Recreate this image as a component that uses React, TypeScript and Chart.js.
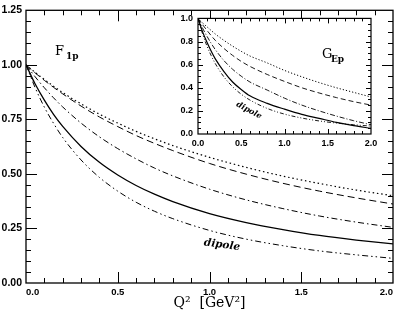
import React, { useEffect, useRef } from "react";
import { Chart, registerables } from "chart.js";
Chart.register(...registerables);

// ---------- data ----------
const q2Main = [0, 0.05, 0.1, 0.15, 0.2, 0.3, 0.4, 0.5, 0.6, 0.7, 0.8, 1.0, 1.2, 1.4, 1.6, 1.8, 2.0];
const f1Dotted = [1, 0.965, 0.933, 0.902, 0.873, 0.821, 0.774, 0.733, 0.695, 0.661, 0.630, 0.576, 0.530, 0.490, 0.456, 0.426, 0.400];
const f1Dashed = [1, 0.963, 0.929, 0.897, 0.867, 0.811, 0.761, 0.717, 0.676, 0.640, 0.607, 0.548, 0.499, 0.457, 0.421, 0.390, 0.362];
const f1DashDot = [1, 0.945, 0.895, 0.849, 0.807, 0.733, 0.670, 0.616, 0.569, 0.527, 0.491, 0.430, 0.381, 0.341, 0.307, 0.279, 0.255];
const f1Solid = [1, 0.912, 0.838, 0.773, 0.718, 0.626, 0.553, 0.495, 0.447, 0.407, 0.373, 0.318, 0.277, 0.245, 0.218, 0.197, 0.179];
const f1Dipole = [1, 0.895, 0.806, 0.732, 0.667, 0.564, 0.484, 0.421, 0.370, 0.329, 0.295, 0.241, 0.201, 0.171, 0.147, 0.129, 0.113];

const q2Inset = [0, 0.05, 0.1, 0.15, 0.2, 0.3, 0.4, 0.5, 0.6, 0.8, 1.0, 1.2, 1.4, 1.6, 1.8, 2.0];
const gDotted = [1, 0.963, 0.93, 0.897, 0.865, 0.81, 0.76, 0.715, 0.675, 0.615, 0.55, 0.495, 0.445, 0.4, 0.36, 0.32];
const gDashed = [1, 0.948, 0.9, 0.853, 0.81, 0.74, 0.68, 0.628, 0.585, 0.515, 0.455, 0.4, 0.355, 0.315, 0.28, 0.25];
const gDashDot = [1, 0.92, 0.85, 0.787, 0.73, 0.635, 0.56, 0.5, 0.45, 0.38, 0.31, 0.25, 0.2, 0.155, 0.115, 0.08];
const gSolid = [1, 0.89, 0.8, 0.72, 0.65, 0.54, 0.45, 0.385, 0.33, 0.265, 0.215, 0.17, 0.135, 0.1, 0.072, 0.049];
const gDipole = [1, 0.873, 0.768, 0.682, 0.609, 0.494, 0.409, 0.344, 0.294, 0.221, 0.172, 0.138, 0.113, 0.0945, 0.08, 0.0686];

const mainYTicks = { min: 0, max: 1.25, step: 0.25, minor: 0.05 };
const mainXTicks = { min: 0, max: 2, step: 0.5, minor: 0.1 };
const insetYTicks = { min: 0, max: 1, step: 0.2, minor: 0.05 };
const insetXTicks = { min: 0, max: 2, step: 0.5, minor: 0.1 };

const xTitle = "Q²  [GeV²]";

// ---------- helpers ----------
function ds(xs: number[], ys: number[], dash: number[], width: number) {
  return {
    data: xs.map((x, i) => ({ x, y: ys[i] })),
    borderColor: "#000",
    borderWidth: width,
    borderDash: dash,
    pointRadius: 0,
    fill: false,
    cubicInterpolationMode: "monotone" as const,
  };
}

function frameTicksPlugin(o: {
  xt: any; yt: any; majX: number; minX: number; majY: number; minY: number; frame: number;
  white?: boolean; draw?: (ctx: CanvasRenderingContext2D) => void;
}) {
  return {
    id: "frameTicks",
    beforeDatasetsDraw(chart: any) {
      if (!o.white) return;
      const { ctx, chartArea: a } = chart;
      ctx.save();
      ctx.fillStyle = "#fff";
      ctx.fillRect(a.left, a.top, a.right - a.left, a.bottom - a.top);
      ctx.restore();
    },
    afterDraw(chart: any) {
      const { ctx, chartArea: a } = chart;
      const xs = chart.scales.x, ys = chart.scales.y;
      ctx.save();
      ctx.strokeStyle = "#000";
      ctx.lineWidth = 1;
      const nx = Math.round((o.xt.max - o.xt.min) / o.xt.minor);
      const rx = Math.round(o.xt.step / o.xt.minor);
      ctx.beginPath();
      for (let i = 1; i < nx; i++) {
        const v = o.xt.min + i * o.xt.minor;
        const p = Math.round(xs.getPixelForValue(v)) + 0.5;
        const len = i % rx === 0 ? o.majX : o.minX;
        ctx.moveTo(p, a.bottom); ctx.lineTo(p, a.bottom - len);
        ctx.moveTo(p, a.top); ctx.lineTo(p, a.top + len);
      }
      const ny = Math.round((o.yt.max - o.yt.min) / o.yt.minor);
      const ry = Math.round(o.yt.step / o.yt.minor);
      for (let i = 1; i < ny; i++) {
        const v = o.yt.min + i * o.yt.minor;
        const p = Math.round(ys.getPixelForValue(v)) + 0.5;
        const len = i % ry === 0 ? o.majY : o.minY;
        ctx.moveTo(a.left, p); ctx.lineTo(a.left + len, p);
        ctx.moveTo(a.right, p); ctx.lineTo(a.right - len, p);
      }
      ctx.stroke();
      ctx.lineWidth = o.frame;
      ctx.strokeRect(a.left, a.top, a.right - a.left, a.bottom - a.top);
      if (o.draw) o.draw(ctx);
      ctx.restore();
    },
  };
}

const MainChart = () => {
  const ref = useRef<HTMLCanvasElement>(null);
  useEffect(() => {
    const plugin = frameTicksPlugin({
      xt: mainXTicks, yt: mainYTicks, majX: 11, minX: 5, majY: 11, minY: 5, frame: 1.3,
      draw: (ctx) => {
        ctx.fillStyle = "#000";
        ctx.textBaseline = "alphabetic";
        ctx.textAlign = "left";
        ctx.font = "13px 'DejaVu Serif'";
        ctx.fillText("F", 55, 55);
        ctx.font = "bold 9px 'DejaVu Serif'";
        ctx.fillText("1p", 66, 59);
        ctx.save();
        ctx.translate(222, 245);
        ctx.rotate((8 * Math.PI) / 180);
        ctx.textAlign = "center";
        ctx.textBaseline = "middle";
        ctx.font = "italic bold 10.5px 'DejaVu Serif'";
        ctx.fillText("dipole", 0, 0);
        ctx.restore();
      },
    });
    const chart = new Chart(ref.current!, {
      type: "line",
      data: {
        datasets: [
          ds(q2Main, f1Dotted, [1.5, 2.8], 1.2),
          ds(q2Main, f1Dashed, [7, 4], 1),
          ds(q2Main, f1DashDot, [6, 3, 1.5, 3], 1),
          ds(q2Main, f1Solid, [], 1.3),
          ds(q2Main, f1Dipole, [6, 3, 1.5, 3, 1.5, 3], 1),
        ] as any,
      },
      options: {
        animation: false,
        responsive: false,
        maintainAspectRatio: false,
        layout: { padding: { top: 6, right: 9, left: 0, bottom: 0 } },
        plugins: { legend: { display: false }, tooltip: { enabled: false }, title: { display: false } },
        scales: {
          x: {
            type: "linear", min: mainXTicks.min, max: mainXTicks.max,
            grid: { display: false, drawTicks: false }, border: { display: false },
            ticks: {
              stepSize: mainXTicks.step, padding: 4, color: "#000", align: "inner",
              maxRotation: 0, autoSkip: false,
              font: { family: "'Liberation Sans'", weight: "bold", size: 9.5 },
              callback: (v: any) => Number(v).toFixed(1),
            },
            title: {
              display: true, text: xTitle, color: "#000",
              font: { family: "'DejaVu Serif'", size: 14 }, padding: { top: 0, bottom: 3 },
            },
            afterFit: (s: any) => { s.height = 32; },
          },
          y: {
            type: "linear", min: mainYTicks.min, max: mainYTicks.max,
            grid: { display: false, drawTicks: false }, border: { display: false },
            ticks: {
              stepSize: mainYTicks.step, padding: 4, color: "#000",
              font: { family: "'Liberation Sans'", weight: "bold", size: 10.5 },
              callback: (v: any) => Number(v).toFixed(2),
            },
            afterFit: (s: any) => { s.width = 26; },
          },
        },
      } as any,
      plugins: [plugin as any],
    });
    return () => chart.destroy();
  }, []);
  return <canvas ref={ref} width={402} height={315} style={{ position: "absolute", left: 0, top: 0, width: 402, height: 315 }} />;
};

const INSET_LEFT = 165;
const INSET_TOP = 8;

const InsetChart = () => {
  const ref = useRef<HTMLCanvasElement>(null);
  useEffect(() => {
    const plugin = frameTicksPlugin({
      xt: insetXTicks, yt: insetYTicks, majX: 5, minX: 3, majY: 5, minY: 3, frame: 1.2, white: true,
      draw: (ctx) => {
        ctx.fillStyle = "#000";
        ctx.textBaseline = "alphabetic";
        ctx.textAlign = "left";
        ctx.font = "13px 'DejaVu Serif'";
        ctx.fillText("G", 322 - INSET_LEFT, 58 - INSET_TOP);
        ctx.font = "bold 9px 'DejaVu Serif'";
        ctx.fillText("Ep", 331 - INSET_LEFT, 62 - INSET_TOP);
        ctx.save();
        ctx.translate(249 - INSET_LEFT, 110.5 - INSET_TOP);
        ctx.rotate((28 * Math.PI) / 180);
        ctx.textAlign = "center";
        ctx.textBaseline = "middle";
        ctx.font = "italic bold 8px 'DejaVu Serif'";
        ctx.fillText("dipole", 0, 0);
        ctx.restore();
      },
    });
    const chart = new Chart(ref.current!, {
      type: "line",
      data: {
        datasets: [
          ds(q2Inset, gDotted, [1.2, 2], 1),
          ds(q2Inset, gDashed, [5, 3], 0.9),
          ds(q2Inset, gDashDot, [5, 2, 1, 2], 0.9),
          ds(q2Inset, gSolid, [], 1.2),
          ds(q2Inset, gDipole, [4, 2, 1, 2, 1, 2], 0.9),
        ] as any,
      },
      options: {
        animation: false,
        responsive: false,
        maintainAspectRatio: false,
        layout: { padding: { top: 10, right: 24, left: 0, bottom: 0 } },
        plugins: { legend: { display: false }, tooltip: { enabled: false }, title: { display: false } },
        scales: {
          x: {
            type: "linear", min: insetXTicks.min, max: insetXTicks.max,
            grid: { display: false, drawTicks: false }, border: { display: false },
            ticks: {
              stepSize: insetXTicks.step, padding: 4, color: "#000",
              maxRotation: 0, autoSkip: false,
              font: { family: "'Liberation Sans'", weight: "bold", size: 9 },
              callback: (v: any) => Number(v).toFixed(1),
            },
            afterFit: (s: any) => { s.height = 24; },
          },
          y: {
            type: "linear", min: insetYTicks.min, max: insetYTicks.max,
            grid: { display: false, drawTicks: false }, border: { display: false },
            ticks: {
              stepSize: insetYTicks.step, padding: 5, color: "#000",
              font: { family: "'Liberation Sans'", weight: "bold", size: 9 },
              callback: (v: any) => Number(v).toFixed(1),
            },
            afterFit: (s: any) => { s.width = 33; },
          },
        },
      } as any,
      plugins: [plugin as any],
    });
    return () => chart.destroy();
  }, []);
  return (
    <canvas
      ref={ref}
      width={230}
      height={150}
      style={{ position: "absolute", left: INSET_LEFT, top: INSET_TOP, width: 230, height: 150 }}
    />
  );
};

export default function App() {
  return (
    <div style={{ position: "absolute", left: 0, top: 0, width: 402, height: 315, background: "#fff" }}>
      <MainChart />
      <InsetChart />
    </div>
  );
}
